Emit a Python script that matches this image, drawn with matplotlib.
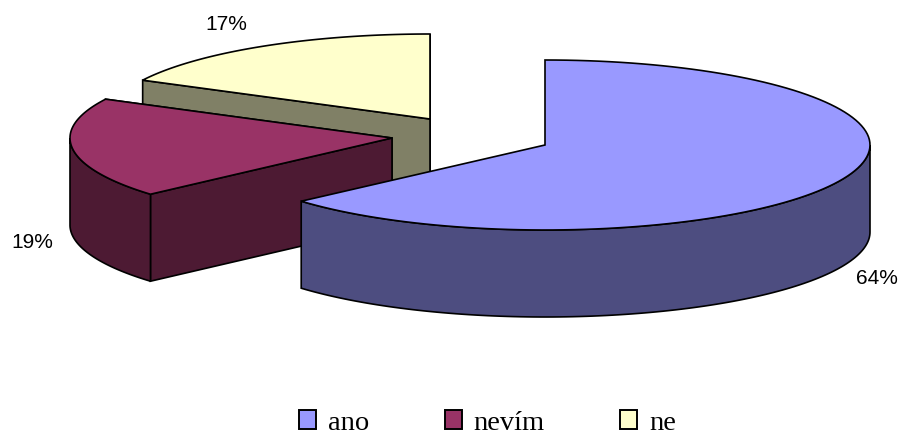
import numpy as np
import matplotlib
matplotlib.use("Agg")
import matplotlib.pyplot as plt
from matplotlib.patches import Polygon, Patch

labels = ["ano", "nevím", "ne"]
shares = [63.5, 19.05, 17.45]

top_colors = ["#9999FF", "#993366", "#FFFFCC"]
side_colors = ["#4D4D80", "#4D1A33", "#808066"]

# apex of each exploded slice, in pixels
apex_x = [545, 392, 430]
apex_y = [145, 138, 119]
radius_x = [325, 322, 323]
# where the percent labels go
label_x = [877, 32, 226]
label_y = [278, 242, 25]

ry = 85
depth = 87

fig = plt.figure(figsize=(9, 4.36), dpi=100)
ax = fig.add_axes([0, 0, 1, 1])
ax.set_xlim(0, 900)
ax.set_ylim(436, 0)
ax.axis("off")


def rim(cx, cy, rx, t0, t1):
    t = np.linspace(t0, t1, 120)
    return cx + rx * np.sin(t), cy - ry * np.cos(t)


def face(xs, ys, color, z):
    ax.add_patch(Polygon(np.column_stack([xs, ys]), closed=True, facecolor=color,
                         edgecolor="black", linewidth=1.2, joinstyle="miter", zorder=z))


ends = np.cumsum(shares) / sum(shares) * 2 * np.pi
starts = np.r_[0, ends[:-1]]

# back slices first so that the big one sits on top
for z, i in enumerate([2, 1, 0]):
    cx, cy, rx = apex_x[i], apex_y[i], radius_x[i]
    t0, t1 = starts[i], ends[i]
    x, y = rim(cx, cy, rx, t0, t1)

    # flat cut faces, the big slice has none facing the viewer
    if i != 0:
        for t in (t1, t0):
            ex, ey = cx + rx * np.sin(t), cy - ry * np.cos(t)
            face([cx, ex, ex, cx], [cy, ey, ey + depth, cy + depth], side_colors[i], z * 3)

    # outer wall, the part of the rim in front of the widest points
    lo = max(t0, np.pi / 2)
    hi = min(t1, 3 * np.pi / 2)
    if hi > lo:
        wx, wy = rim(cx, cy, rx, lo, hi)
        face(np.r_[wx, wx[::-1]], np.r_[wy, wy[::-1] + depth], side_colors[i], z * 3 + 1)

    face(np.r_[cx, x], np.r_[cy, y], top_colors[i], z * 3 + 2)
    ax.text(label_x[i], label_y[i], f"{shares[i]:.0f}%", ha="center", va="center",
            fontsize=15, family="Liberation Sans", color="black", zorder=20)

handles = [Patch(facecolor=c, edgecolor="black", linewidth=1.4) for c in top_colors]
ax.legend(handles, labels, loc="center", bbox_to_anchor=(487.5 / 900, 1 - 423 / 436),
          ncol=3, frameon=False, prop={"family": "Liberation Serif", "size": 20.5},
          handlelength=0.6, handleheight=0.6, handletextpad=0.42, columnspacing=2.65,
          borderpad=0, labelspacing=0)

fig.savefig("out.png", dpi=100)
